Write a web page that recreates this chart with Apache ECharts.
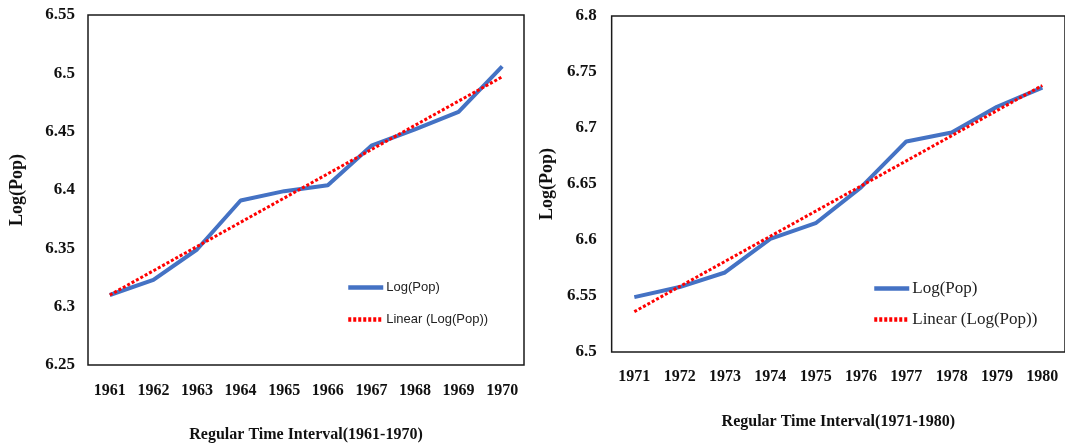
<!DOCTYPE html>
<html>
<head>
<meta charset="utf-8">
<script src="https://cdn.jsdelivr.net/npm/echarts@6/dist/echarts.min.js"></script>
<style>
  body { margin: 0; background: #fff; }
  #left { position: absolute; left: 0; top: 0; width: 530px; height: 448px; }
  #right { position: absolute; left: 530px; top: 0; width: 535px; height: 448px; }
</style>
</head>
<body>
<div id="left"></div>
<div id="right"></div>
<script>
// data
const years1 = ['1961', '1962', '1963', '1964', '1965', '1966', '1967', '1968', '1969', '1970'];
const logPop1 = [6.310, 6.323, 6.349, 6.391, 6.399, 6.404, 6.438, 6.452, 6.467, 6.506];
// trend line: only its two ends, drawn straight across
const trend1 = [6.310, null, null, null, null, null, null, null, null, 6.497];

const years2 = ['1971', '1972', '1973', '1974', '1975', '1976', '1977', '1978', '1979', '1980'];
const logPop2 = [6.549, 6.558, 6.571, 6.601, 6.615, 6.647, 6.688, 6.696, 6.719, 6.736];
const trend2 = [6.536, null, null, null, null, null, null, null, null, 6.738];

const serif = 'Liberation Serif, Times New Roman, serif';

function makeOption(p) {
  return {
    animation: false,
    grid: {
      left: p.gridLeft, top: p.gridTop, width: p.gridWidth, height: p.gridHeight,
      show: true, borderColor: '#1a1a1a', borderWidth: 1.5, backgroundColor: '#fff'
    },
    legend: {
      orient: 'vertical',
      left: p.legendLeft,
      top: p.legendTop,
      padding: 0,
      itemWidth: 35,
      itemHeight: 14,
      itemGap: p.legendGap,
      itemStyle: { opacity: 0 },
      lineStyle: { width: 4.5 },
      textStyle: { fontFamily: p.legendFont, fontSize: p.legendSize, color: '#222', padding: [0, 0, 0, -2] },
      data: ['Log(Pop)', 'Linear (Log(Pop))']
    },
    xAxis: {
      type: 'category',
      data: p.years,
      boundaryGap: true,
      axisLine: { show: false },
      axisTick: { show: false },
      axisLabel: { interval: 0, margin: p.labelMargin, fontFamily: serif, fontWeight: 'bold', fontSize: 16, color: '#111' },
      name: p.xName,
      nameLocation: 'middle',
      nameGap: p.xNameGap,
      nameTextStyle: { fontFamily: serif, fontWeight: 'bold', fontSize: 16, color: '#111' }
    },
    yAxis: {
      type: 'value',
      min: p.yMin, max: p.yMax, interval: 0.05,
      splitLine: { show: false },
      axisLine: { show: false },
      axisTick: { show: false },
      axisLabel: {
        margin: p.yLabelMargin, fontFamily: serif, fontWeight: 'bold', fontSize: 17, color: '#111',
        formatter: v => String(+v.toFixed(2))
      },
      name: 'Log(Pop)',
      nameLocation: 'middle',
      nameRotate: 90,
      nameGap: p.yNameGap,
      nameTextStyle: { fontFamily: serif, fontWeight: 'bold', fontSize: 18, color: '#111' }
    },
    series: [
      {
        name: 'Log(Pop)',
        type: 'line',
        data: p.values,
        symbol: 'none',
        lineStyle: { color: '#4472C4', width: 4 },
        itemStyle: { color: '#4472C4' }
      },
      {
        name: 'Linear (Log(Pop))',
        type: 'line',
        data: p.trend,
        connectNulls: true,
        symbol: 'none',
        lineStyle: { color: '#ff0000', width: 3, type: [3, 2] },
        itemStyle: { color: '#ff0000' }
      }
    ]
  };
}

const L = echarts.init(document.getElementById('left'));
L.setOption(makeOption({
  gridLeft: 86, gridTop: 15, gridWidth: 438, gridHeight: 353,
  years: years1, values: logPop1, trend: trend1,
  yMin: 6.25, yMax: 6.55,
  labelMargin: 18, yLabelMargin: 13,
  xName: 'Regular Time Interval(1961-1970)', xNameGap: 62,
  yNameGap: 62,
  legendLeft: 346, legendTop: 281, legendGap: 19,
  legendFont: 'Liberation Sans Narrow, Liberation Sans, sans-serif', legendSize: 13
}));

const R = echarts.init(document.getElementById('right'));
R.setOption(makeOption({
  gridLeft: 70, gridTop: 16, gridWidth: 469, gridHeight: 336,
  years: years2, values: logPop2, trend: trend2,
  yMin: 6.5, yMax: 6.8,
  labelMargin: 17, yLabelMargin: 15,
  xName: 'Regular Time Interval(1971-1980)', xNameGap: 62,
  yNameGap: 46,
  legendLeft: 342, legendTop: 280, legendGap: 14,
  legendFont: serif, legendSize: 17
}));
</script>
</body>
</html>
